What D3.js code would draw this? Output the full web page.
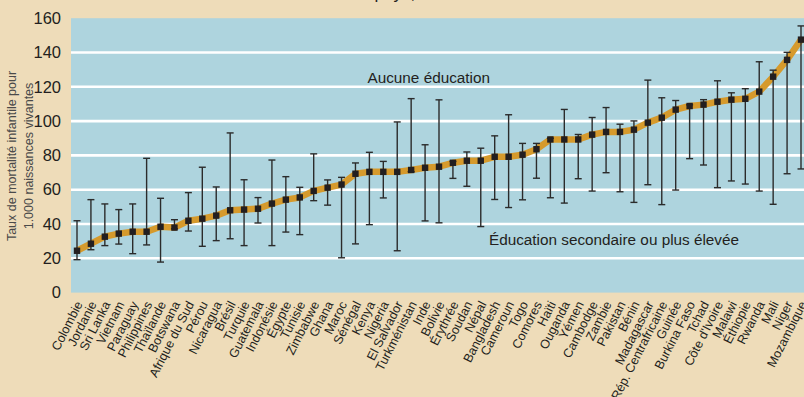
<!DOCTYPE html>
<html>
<head>
<meta charset="utf-8">
<script src="https://cdn.jsdelivr.net/npm/d3@7"></script>
<style>
  html, body { margin: 0; padding: 0; background: #eedcb9; }
  svg { display: block; }
  text { font-family: "Liberation Sans", Arial, sans-serif; }
</style>
</head>
<body>
<svg id="chart" width="804" height="397"></svg>
<script>
const countries = ["Colombie","Jordanie","Sri Lanka","Vietnam","Paraguay","Philippines","Thaïlande","Botswana","Afrique du Sud","Pérou","Nicaragua","Brésil","Turquie","Guatemala","Indonésie","Égypte","Tunisie","Zimbabwe","Ghana","Maroc","Sénégal","Kenya","Nigeria","El Salvador","Turkménistan","Inde","Bolivie","Érythrée","Soudan","Népal","Bangladesh","Cameroun","Togo","Comores","Haïti","Ouganda","Yémen","Cambodge","Zambie","Pakistan","Bénin","Madagascar","Rép. Centrafricaine","Guinée","Burkina Faso","Tchad","Côte d'Ivoire","Malawi","Éthiopie","Rwanda","Mali","Niger","Mozambique"];
// overall infant mortality rate (line)
const values = [24.4,28.5,32.6,34.4,35.5,35.5,38.4,37.9,41.9,43.1,44.9,48.0,48.4,48.9,51.9,54.2,55.5,59.3,61.2,63.0,69.3,70.4,70.4,70.4,71.5,72.8,73.4,75.7,76.9,76.9,79.2,79.2,80.4,83.6,89.3,89.3,89.3,92.1,93.7,93.7,95.0,99.1,102.0,106.7,108.8,109.6,111.3,112.5,113.0,117.2,125.9,135.7,147.5];
// "Éducation secondaire ou plus élevée" (lower end of bar)
const secondary = [19.2,25.0,27.4,28.3,22.7,27.8,17.8,37.2,35.9,27.0,30.3,31.4,27.4,40.6,27.4,35.3,33.8,53.6,51.0,20.3,28.4,39.6,55.2,24.4,70.5,41.8,40.7,66.6,62.0,38.5,54.3,49.6,54.1,66.7,55.3,52.2,66.4,59.2,69.9,58.8,52.6,62.9,51.3,59.8,78.1,74.4,61.2,65.1,63.3,59.2,51.5,69.3,72.1];
// "Aucune éducation" (upper end of bar)
const noEducation = [41.9,54.2,51.7,48.4,51.7,78.3,55.0,42.5,58.3,73.1,61.6,93.1,65.8,55.4,77.3,67.6,61.4,80.9,65.7,67.2,75.6,81.8,76.5,99.5,113.1,86.2,112.4,76.5,82.0,84.2,91.4,103.7,87.0,87.0,90.0,106.8,92.2,102.1,107.9,98.2,100.1,123.9,113.6,112.0,109.5,112.5,123.5,116.5,118.9,134.6,129.7,140.1,155.5];
const yTicks = [0,20,40,60,80,100,120,140,160];
const yTitle = ["Taux de mortalité infantile pour","1.000 naissances vivantes"];
const titleFragment = "pays,";
const labelTop = "Aucune éducation";
const labelBottom = "Éducation secondaire ou plus élevée";

const svg = d3.select("#chart");
const W = 804, H = 397;
const plot = {left: 71, right: 804, top: 18.2, bottom: 292.6};

svg.append("rect").attr("width", W).attr("height", H).attr("fill", "#eedcb9");

const x = d3.scalePoint().domain(countries).range([77, 801]);
const y = d3.scaleLinear().domain([0, 160]).range([plot.bottom, plot.top]);

// plot background
svg.append("rect")
  .attr("x", plot.left).attr("y", y(160))
  .attr("width", plot.right - plot.left).attr("height", y(0) - y(160))
  .attr("fill", "#aed4de");

// gridlines
svg.append("g").selectAll("line")
  .data(yTicks.filter(d => d > 0 && d < 160))
  .join("line")
  .attr("x1", plot.left).attr("x2", plot.right)
  .attr("y1", d => y(d)).attr("y2", d => y(d))
  .attr("stroke", "#ffffff").attr("stroke-width", 2.6);

// y axis labels
const yAxis = d3.axisLeft(y).tickValues(yTicks).tickSize(0).tickPadding(10);
const gy = svg.append("g").attr("transform", `translate(${plot.left},0)`).call(yAxis);
gy.select(".domain").remove();
gy.selectAll("text")
  .attr("font-size", "16.5px")
  .attr("font-family", "'Liberation Sans', Arial, sans-serif")
  .attr("fill", "#231f20");

// y title
const yt = svg.append("text")
  .attr("transform", "translate(0,156) rotate(-90)")
  .attr("text-anchor", "middle")
  .attr("font-size", "12.5px")
  .attr("fill", "#4a4a4a");
yt.append("tspan").attr("x", 0).attr("y", 16).text(yTitle[0]);
yt.append("tspan").attr("x", 0).attr("y", 33).text(yTitle[1]);

// title fragment (cut off at top, as in the reference)
svg.append("text")
  .attr("x", 374.5).attr("y", -1)
  .attr("font-size", "17px")
  .attr("fill", "#231f20")
  .text(titleFragment);

// annotations
svg.append("text")
  .attr("x", 367.5).attr("y", 83)
  .attr("font-size", "15.3px").attr("fill", "#231f20")
  .text(labelTop);
svg.append("text")
  .attr("x", 489).attr("y", 245)
  .attr("font-size", "15.3px").attr("fill", "#231f20")
  .text(labelBottom);

const data = countries.map((c, i) => ({c, v: values[i], lo: secondary[i], hi: noEducation[i]}));

// line
svg.append("path")
  .datum(data)
  .attr("fill", "none")
  .attr("stroke", "#d69a2c")
  .attr("stroke-width", 6.5)
  .attr("stroke-linejoin", "round")
  .attr("d", d3.line().x(d => x(d.c)).y(d => y(d.v)));

// error bars
const eb = svg.append("g").attr("stroke", "#2b2b2b").attr("stroke-width", 1.4);
eb.selectAll("line.v").data(data).join("line").attr("class", "v")
  .attr("x1", d => x(d.c)).attr("x2", d => x(d.c))
  .attr("y1", d => y(d.lo)).attr("y2", d => y(d.hi));
eb.selectAll("line.t").data(data).join("line").attr("class", "t")
  .attr("x1", d => x(d.c) - 3.5).attr("x2", d => x(d.c) + 3.5)
  .attr("y1", d => y(d.hi)).attr("y2", d => y(d.hi));
eb.selectAll("line.b").data(data).join("line").attr("class", "b")
  .attr("x1", d => x(d.c) - 3.5).attr("x2", d => x(d.c) + 3.5)
  .attr("y1", d => y(d.lo)).attr("y2", d => y(d.lo));

// markers
const ms = 6.4;
svg.append("g").selectAll("rect").data(data).join("rect")
  .attr("x", d => x(d.c) - ms / 2).attr("y", d => y(d.v) - ms / 2)
  .attr("width", ms).attr("height", ms)
  .attr("fill", "#231f20");

// x labels
const xAxis = d3.axisBottom(x).tickSize(0).tickPadding(0);
const gx = svg.append("g").attr("transform", `translate(0,${plot.bottom})`).call(xAxis);
gx.select(".domain").remove();
gx.selectAll("text")
  .attr("font-size", "12.6px")
  .attr("font-family", "'Liberation Sans', Arial, sans-serif")
  .attr("fill", "#231f20")
  .attr("text-anchor", "end")
  .attr("y", 0).attr("dy", "0.35em")
  .attr("transform", "translate(1.5,9.5) rotate(-63)");
</script>
</body>
</html>
